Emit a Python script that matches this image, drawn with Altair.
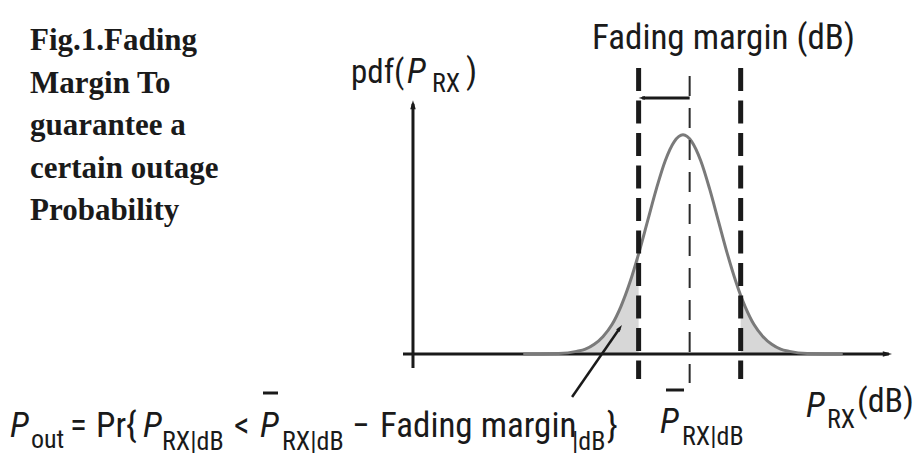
import altair as alt
import pandas as pd

# Received power grid (dB) and the shadowing pdf evaluated on it
p_rx_db = [-106, -102, -98, -94, -92, -90, -88, -86, -84, -82, -80, -78, -76, -74, -72, -70,
           -68, -66, -64, -62, -60, -58, -57, -56, -54, -52, -50, -48, -46, -42, -38, -34]
pdf_vals = [0.0000, 0.0000, 0.0001, 0.0006, 0.0011, 0.0022, 0.0040, 0.0067, 0.0108, 0.0162,
            0.0228, 0.0302, 0.0376, 0.0440, 0.0483, 0.0499, 0.0483, 0.0440, 0.0376, 0.0302,
            0.0228, 0.0162, 0.0133, 0.0108, 0.0067, 0.0040, 0.0022, 0.0011, 0.0006, 0.0001,
            0.0000, 0.0000]

# Threshold lines: mean - margin, mean, mean + margin (dB)
margin_lines_db = [-80.0, -57.0]
mean_line_db = [-68.5]

INK = "#1a1a1a"
CURVE = "#7a7a7a"
FILL = "#d7d7d7"
COND = "Roboto Condensed, Liberation Sans, sans-serif"
SERIF = "Liberation Serif, Times New Roman, serif"

xs = alt.Scale(domain=[-223.92, -17.94], nice=False, zero=False)
ys = alt.Scale(domain=[-0.0230, 0.0806], nice=False, zero=False)


def X(field, **kw):
    return alt.X(field, type="quantitative", scale=xs, axis=None, **kw)


def Y(field, **kw):
    return alt.Y(field, type="quantitative", scale=ys, axis=None, **kw)


curve = pd.DataFrame({"p": p_rx_db, "pdf": pdf_vals, "zero": 0.0})
left_tail = curve[curve.p <= margin_lines_db[0]]
right_tail = curve[curve.p >= margin_lines_db[1]]

tail_fill = [
    alt.Chart(df).mark_area(color=FILL, interpolate="monotone").encode(
        x=X("p"), y=Y("pdf"), y2=alt.Y2("zero"))
    for df in (left_tail, right_tail)
]

# Coordinate axes with arrowheads
ARROW = "M0,0 L-0.45,1.5 L0.45,1.5 Z"
axes_df = pd.DataFrame({"x0": [-133.1, -130.85], "x1": [-23.6, -130.85],
                        "y0": [0.0, -0.0032], "y1": [0.0, 0.0570]})
axes = alt.Chart(axes_df).mark_rule(color=INK, strokeWidth=3).encode(
    x=X("x0"), x2=alt.X2("x1"), y=Y("y0"), y2=alt.Y2("y1"))
x_head = alt.Chart(pd.DataFrame({"x": [-22.9], "y": [0.0]})).mark_point(
    shape=ARROW, filled=True, size=150, angle=90, color=INK, opacity=1).encode(x=X("x"), y=Y("y"))
y_head = alt.Chart(pd.DataFrame({"x": [-130.85], "y": [0.0578]})).mark_point(
    shape=ARROW, filled=True, size=150, color=INK, opacity=1).encode(x=X("x"), y=Y("y"))

pdf_line = alt.Chart(curve).mark_line(color=CURVE, strokeWidth=3, interpolate="monotone").encode(
    x=X("p"), y=Y("pdf"))

thick_dash = alt.Chart(pd.DataFrame({"p": margin_lines_db, "top": 0.0651, "bot": -0.0057})).mark_rule(
    color=INK, strokeWidth=5, strokeDash=[23, 9.5]).encode(x=X("p"), y=Y("top"), y2=alt.Y2("bot"))
thin_dash = alt.Chart(pd.DataFrame({"p": mean_line_db, "top": 0.0651, "bot": -0.0066})).mark_rule(
    color="#2a2a2a", strokeWidth=2, strokeDash=[20, 12], strokeDashOffset=24).encode(
    x=X("p"), y=Y("top"), y2=alt.Y2("bot"))

# Fading margin bracket: from the mean back to the threshold
margin_df = pd.DataFrame({"a": mean_line_db, "b": [margin_lines_db[0] + 0.8], "y": [0.0583]})
margin_rule = alt.Chart(margin_df).mark_rule(color=INK, strokeWidth=3).encode(
    x=X("a"), x2=alt.X2("b"), y=Y("y"))
margin_head = alt.Chart(pd.DataFrame({"x": [margin_lines_db[0]], "y": [0.0583]})).mark_point(
    shape=ARROW, filled=True, size=70, angle=270, color=INK, opacity=1).encode(x=X("x"), y=Y("y"))

# Pointer to the outage region
pointer = alt.Chart(pd.DataFrame({"x0": [-95.0], "y0": [-0.0098], "x1": [-84.3], "y1": [0.0058]})).mark_rule(
    color=INK, strokeWidth=2.5).encode(x=X("x0"), x2=alt.X2("x1"), y=Y("y0"), y2=alt.Y2("y1"))
pointer_head = alt.Chart(pd.DataFrame({"x": [-83.75], "y": [0.0066]})).mark_point(
    shape=ARROW, filled=True, size=90, angle=35, color=INK, opacity=1).encode(x=X("x"), y=Y("y"))


def label(text, x, y, size, style="normal", font=COND, weight="normal", **kw):
    return alt.Chart().mark_text(
        text=text, font=font, fontSize=size, fontStyle=style, fontWeight=weight,
        align="left", baseline="alphabetic", color=INK, **kw).encode(x=alt.value(x), y=alt.value(y))


def bar(x0, x1, y):
    return alt.Chart().mark_rule(color=INK, strokeWidth=3).encode(
        x=alt.value(x0), x2=alt.value(x1), y=alt.value(y))


M, S = 35, 26
texts = [
    label(["Fig.1.Fading", "Margin To", "guarantee a", "certain outage", "Probability"],
          30, 50, 31, font=SERIF, weight="bold", lineHeight=42.5),
    label("Fading margin (dB)", 592, 49, M),
    # pdf(P_RX)
    label("pdf(", 351, 83, 33), label("P", 407, 83, M, "italic"), label("RX", 432, 92, S),
    label(")", 466, 83, M),
    # P_RX(dB)
    label("P", 806, 417, M, "italic"), label("RX", 827, 428, S), label("(dB)", 857, 412, 34),
    # mean label below the axis
    label("P", 660, 433, M, "italic"), label("RX|dB", 682, 445, S), bar(666, 684, 390),
    # outage probability expression
    label("P", 10, 437, M, "italic"), label("out", 31, 448, S),
    label("=", 70, 437, M), label("Pr{", 96, 437, M),
    label("P", 143, 437, M, "italic"), label("RX|dB", 162, 450, S),
    label("<", 234, 437, M),
    label("P", 260, 437, M, "italic"), label("RX|dB", 282, 450, S), bar(263, 278, 393),
    label("\u2212", 352, 437, M), label("Fading margin", 380, 437, M),
    label("|dB", 572, 450, S), label("}", 607, 437, M),
]

chart = alt.layer(
    *tail_fill, axes, x_head, y_head, pdf_line, thick_dash, thin_dash,
    margin_rule, margin_head, pointer, pointer_head, *texts
).properties(
    width=914, height=455, autosize=alt.AutoSizeParams(type="none"), padding=0,
    background="white"
).configure_view(stroke=None)

chart.save("out.html", embed_options={"renderer": "svg", "actions": False})
